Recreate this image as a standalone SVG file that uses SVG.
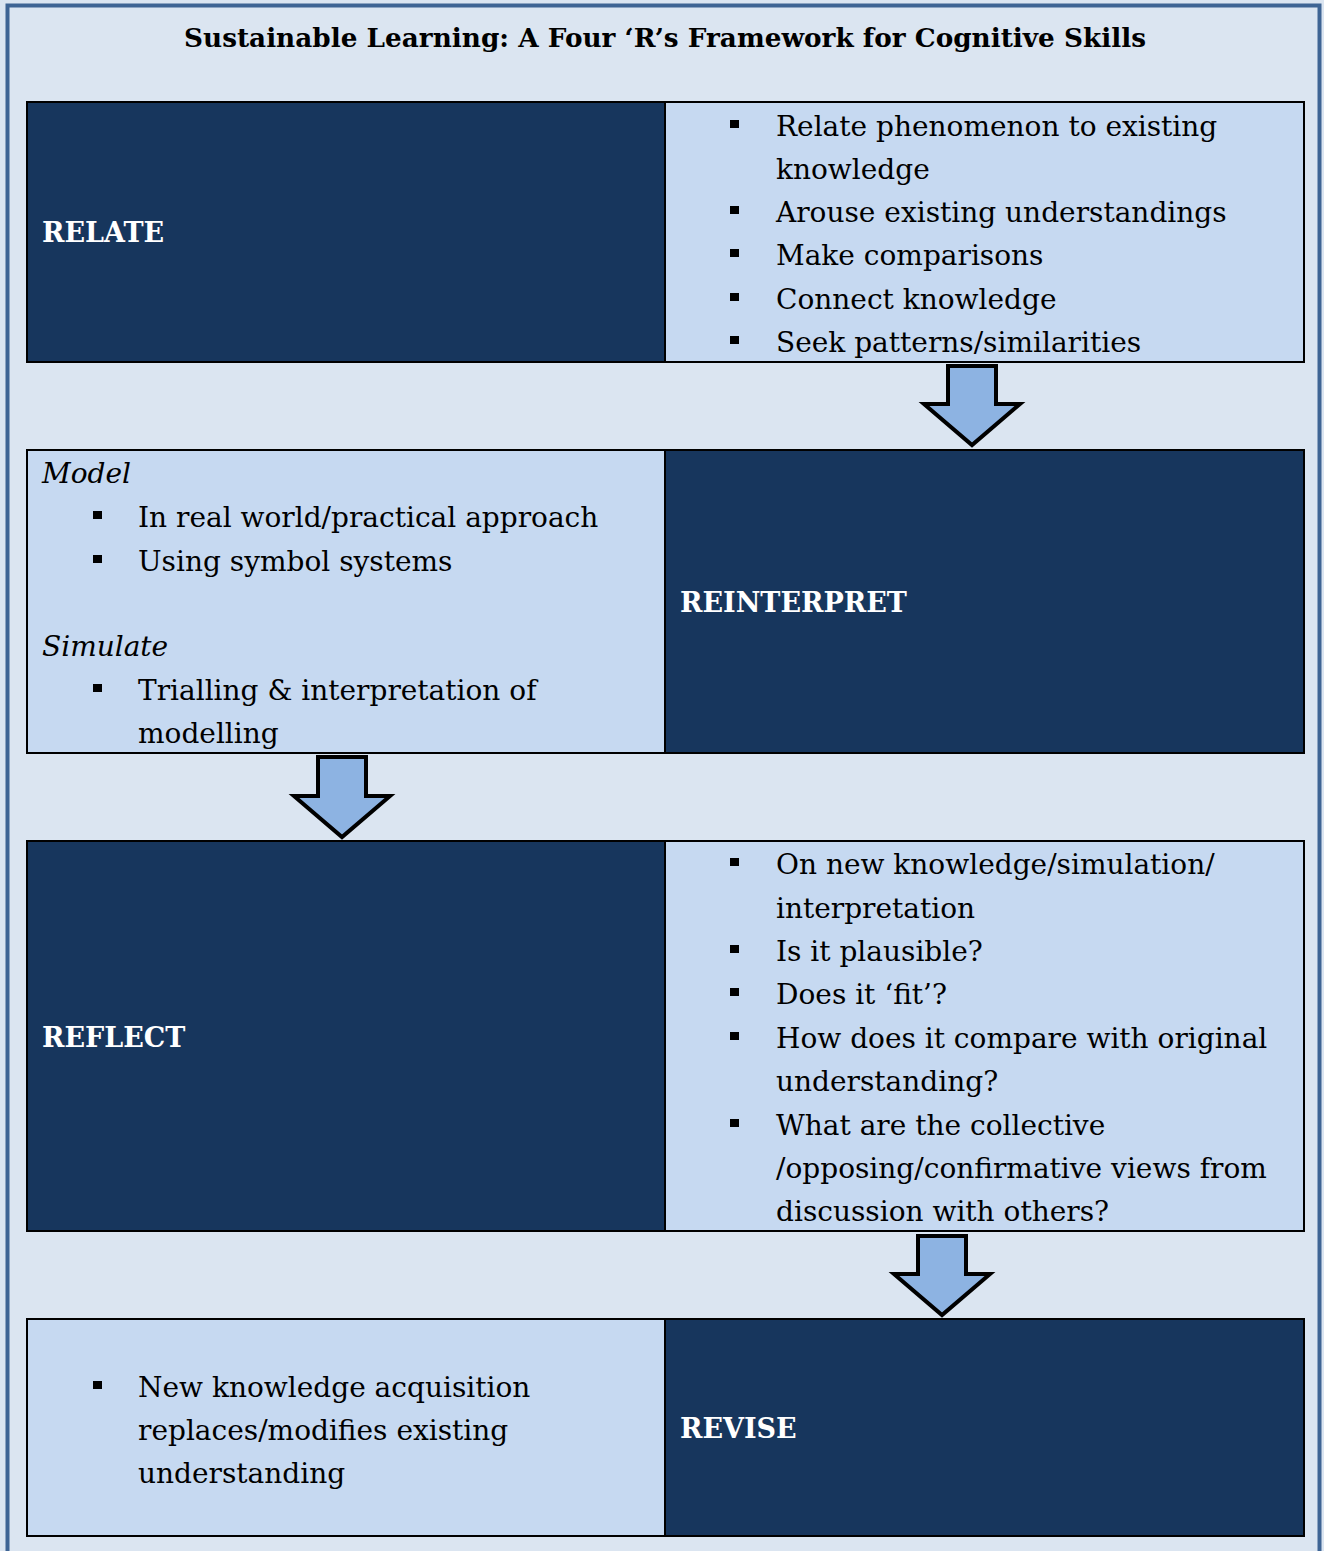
<svg xmlns="http://www.w3.org/2000/svg" width="1324" height="1551" viewBox="0 0 1324 1551">
<style>
.bg{fill:#dbe5f1}
.dark{fill:#17365d;stroke:#000;stroke-width:2}
.light{fill:#c6d9f1;stroke:#000;stroke-width:2}
.t{font-family:"DejaVu Serif","Liberation Serif",serif;font-size:28px;fill:#000}
.i{font-style:italic}
.lbl{font-family:"DejaVu Serif","Liberation Serif",serif;font-size:27px;font-weight:bold;fill:#fff}
.title{font-family:"DejaVu Serif","Liberation Serif",serif;font-size:26.3px;font-weight:bold;fill:#000}
.arrow{fill:#8db3e2;stroke:#000;stroke-width:4;stroke-linejoin:miter}
</style>
<defs>
<rect id="b" width="9" height="8" fill="#000"/>
</defs>
<rect class="bg" x="0" y="0" width="1324" height="1551"/>
<rect x="7.5" y="5.5" width="1312" height="1560" fill="none" stroke="#3e6494" stroke-width="4"/>
<text class="title" x="665" y="47" text-anchor="middle">Sustainable Learning: A Four ‘R’s Framework for Cognitive Skills</text>

<g id="relate">
<rect class="dark" x="27" y="102" width="638" height="260"/>
<text class="lbl" x="42" y="242">RELATE</text>
</g>
<g id="relate-notes">
<rect class="light" x="665" y="102" width="639" height="260"/>
<use href="#b" x="730" y="120"/>
<text class="t" x="776" y="136">Relate phenomenon to existing</text>
<text class="t" x="776" y="179">knowledge</text>
<use href="#b" x="730" y="206"/>
<text class="t" x="776" y="222">Arouse existing understandings</text>
<use href="#b" x="730" y="249"/>
<text class="t" x="776" y="265">Make comparisons</text>
<use href="#b" x="730" y="293"/>
<text class="t" x="776" y="309">Connect knowledge</text>
<use href="#b" x="730" y="336"/>
<text class="t" x="776" y="352">Seek patterns/similarities</text>
</g>

<g id="reinterpret-notes">
<rect class="light" x="27" y="450" width="638" height="303"/>
<text class="t i" x="42" y="483">Model</text>
<use href="#b" x="93" y="511"/>
<text class="t" x="138" y="527">In real world/practical approach</text>
<use href="#b" x="93" y="555"/>
<text class="t" x="138" y="571">Using symbol systems</text>
<text class="t i" x="42" y="656">Simulate</text>
<use href="#b" x="93" y="684"/>
<text class="t" x="138" y="700">Trialling &amp; interpretation of</text>
<text class="t" x="138" y="743">modelling</text>
</g>
<g id="reinterpret">
<rect class="dark" x="665" y="450" width="639" height="303"/>
<text class="lbl" x="680" y="612">REINTERPRET</text>
</g>

<g id="reflect">
<rect class="dark" x="27" y="841" width="638" height="390"/>
<text class="lbl" x="42" y="1047">REFLECT</text>
</g>
<g id="reflect-notes">
<rect class="light" x="665" y="841" width="639" height="390"/>
<use href="#b" x="730" y="858"/>
<text class="t" x="776" y="874">On new knowledge/simulation/</text>
<text class="t" x="776" y="918">interpretation</text>
<use href="#b" x="730" y="945"/>
<text class="t" x="776" y="961">Is it plausible?</text>
<use href="#b" x="730" y="988"/>
<text class="t" x="776" y="1004">Does it ‘fit’?</text>
<use href="#b" x="730" y="1032"/>
<text class="t" x="776" y="1048">How does it compare with original</text>
<text class="t" x="776" y="1091">understanding?</text>
<use href="#b" x="730" y="1119"/>
<text class="t" x="776" y="1135">What are the collective</text>
<text class="t" x="776" y="1178">/opposing/confirmative views from</text>
<text class="t" x="776" y="1221">discussion with others?</text>
</g>

<g id="revise-notes">
<rect class="light" x="27" y="1319" width="638" height="217"/>
<use href="#b" x="93" y="1381"/>
<text class="t" x="138" y="1397">New knowledge acquisition</text>
<text class="t" x="138" y="1440">replaces/modifies existing</text>
<text class="t" x="138" y="1483">understanding</text>
</g>
<g id="revise">
<rect class="dark" x="665" y="1319" width="639" height="217"/>
<text class="lbl" x="680" y="1438">REVISE</text>
</g>

<g id="connectors">
<polygon class="arrow" points="948,366 996,366 996,404 1020,404 972,445 924,404 948,404"/>
<polygon class="arrow" points="318,757 366,757 366,796 390,796 342,837 294,796 318,796"/>
<polygon class="arrow" points="918,1236 966,1236 966,1274 990,1274 942,1315 894,1274 918,1274"/>
</g>
</svg>
